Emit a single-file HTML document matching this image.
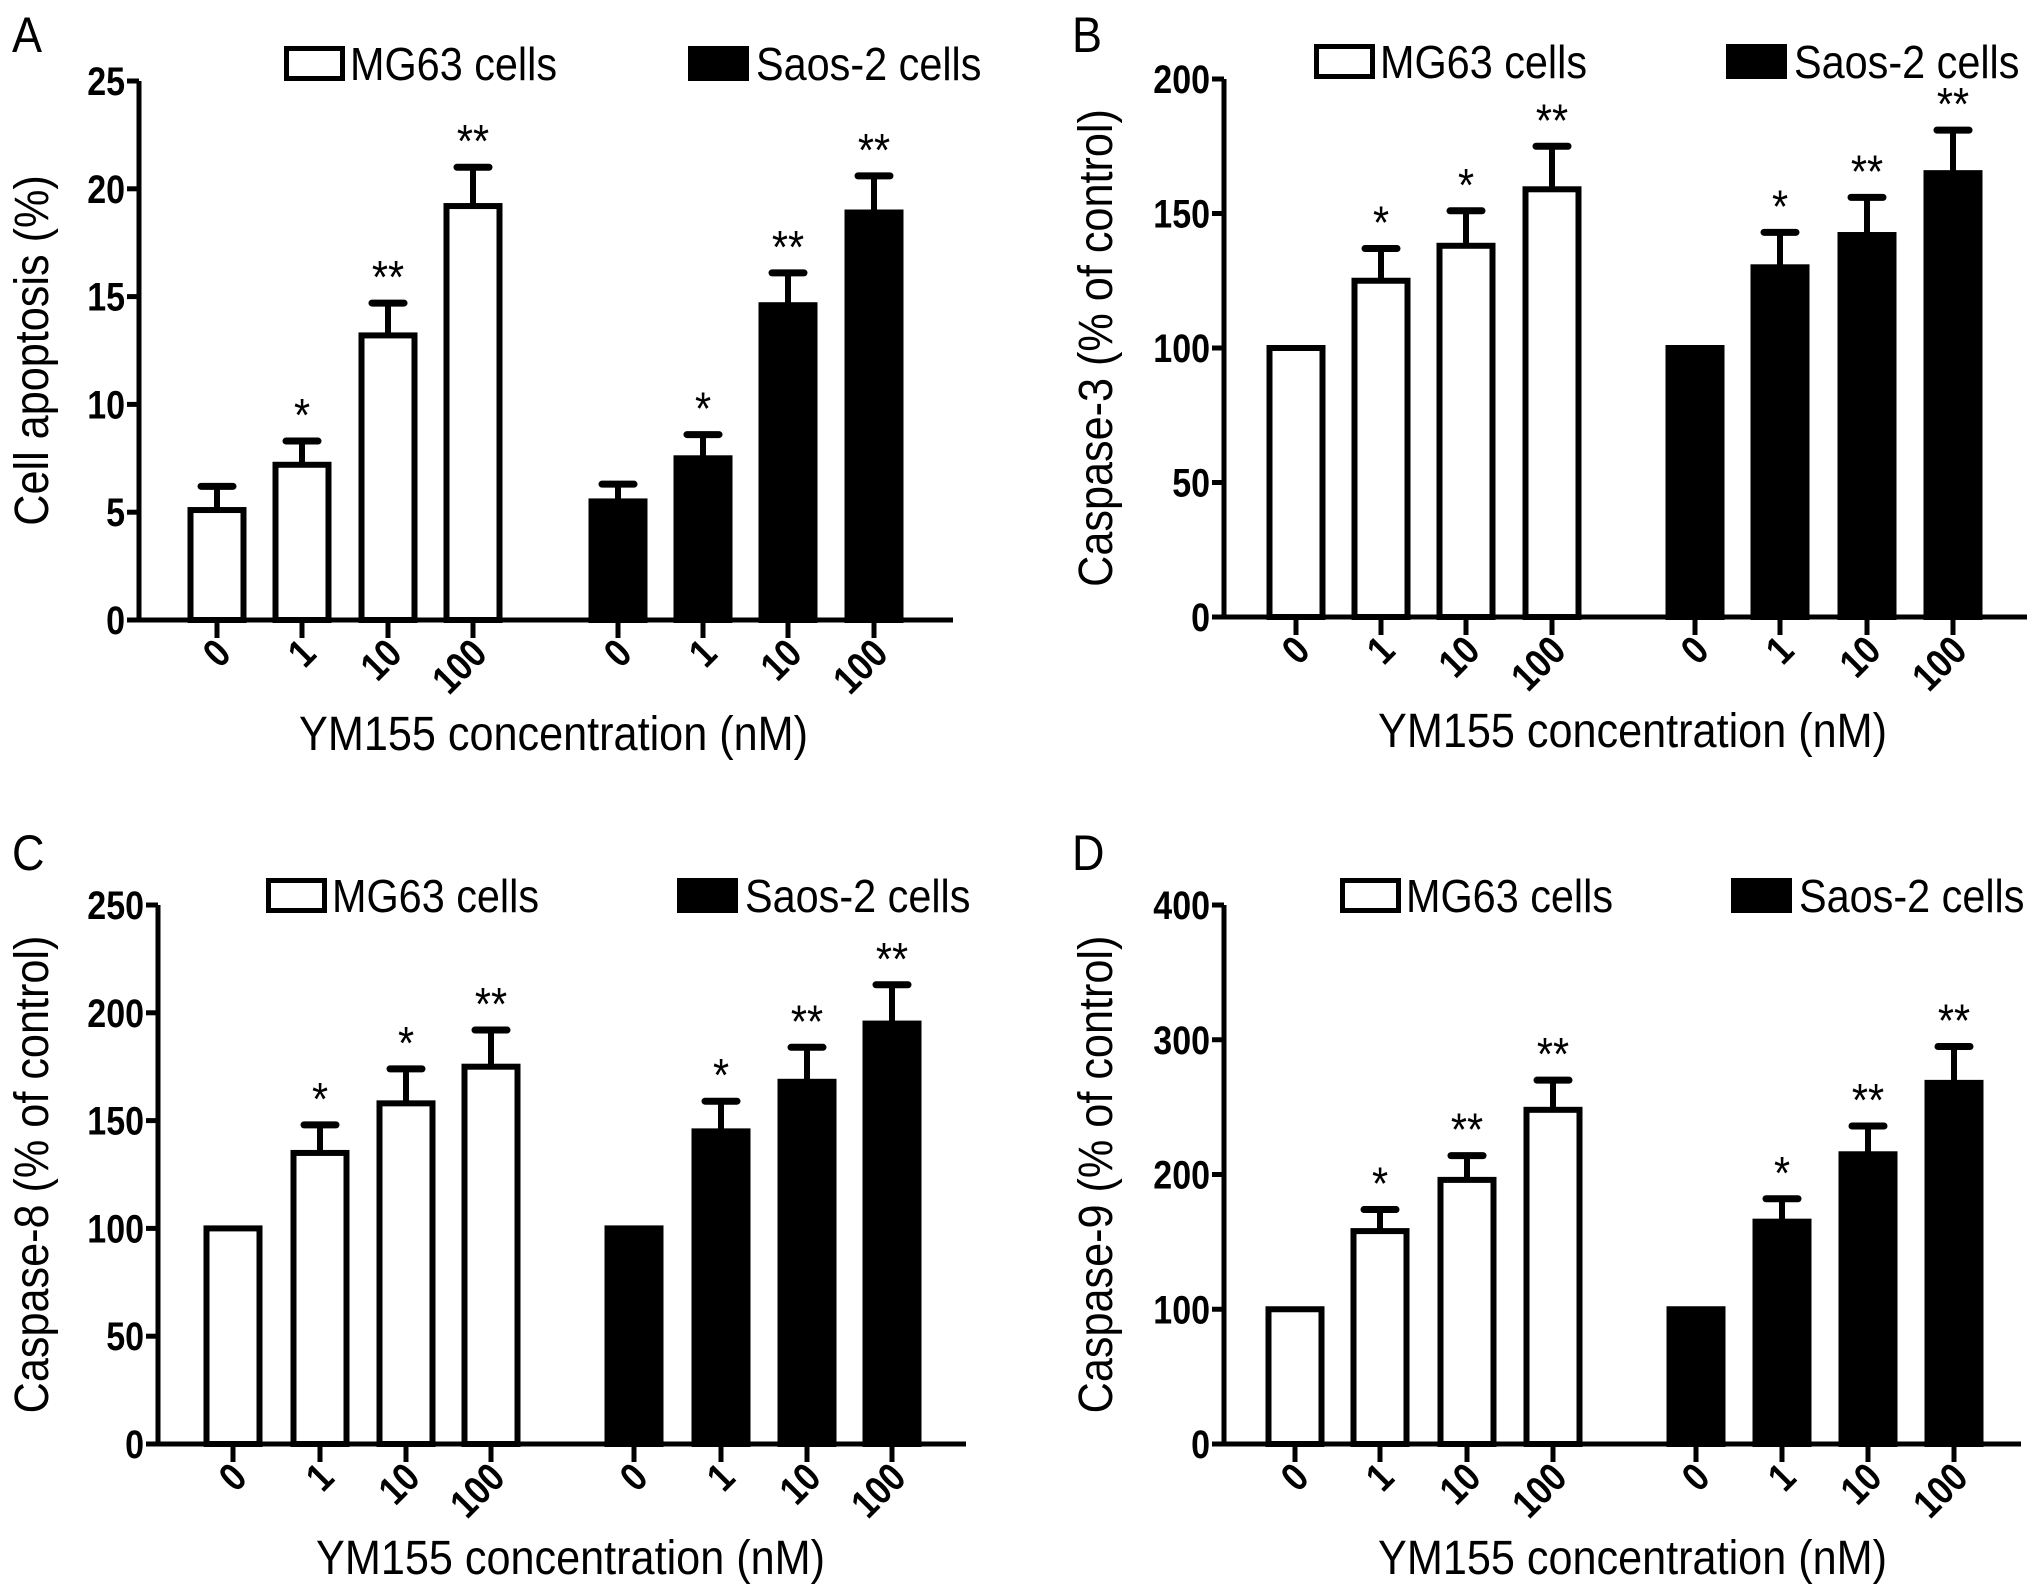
<!DOCTYPE html>
<html><head><meta charset="utf-8"><style>
html,body{margin:0;padding:0;background:#fff;}
svg{display:block;font-family:"Liberation Sans",Arial,sans-serif;}
</style></head><body>
<svg id="fig" width="2031" height="1589" viewBox="0 0 2031 1589" xmlns="http://www.w3.org/2000/svg"></svg>
<script>
const concLabels = ["0","1","10","100"];
const aMG = [5.1, 7.2, 13.2, 19.2];
const aMGerr = [6.2, 8.3, 14.7, 21.0];
const aSaos = [5.5, 7.5, 14.6, 18.9];
const aSaosErr = [6.3, 8.6, 16.1, 20.6];
const aMGstars = ["", "*", "**", "**"];
const aSaosStars = ["", "*", "**", "**"];
const aTicks = [0, 5, 10, 15, 20, 25];

const bMG = [100, 125, 138, 159];
const bMGerr = [null, 137, 151, 175];
const bSaos = [100, 130, 142, 165];
const bSaosErr = [null, 143, 156, 181];
const bMGstars = ["", "*", "*", "**"];
const bSaosStars = ["", "*", "**", "**"];
const bTicks = [0, 50, 100, 150, 200];

const cMG = [100, 135, 158, 175];
const cMGerr = [null, 148, 174, 192];
const cSaos = [100, 145, 168, 195];
const cSaosErr = [null, 159, 184, 213];
const cMGstars = ["", "*", "*", "**"];
const cSaosStars = ["", "*", "**", "**"];
const cTicks = [0, 50, 100, 150, 200, 250];

const dMG = [100, 158, 196, 248];
const dMGerr = [null, 174, 214, 270];
const dSaos = [100, 165, 215, 268];
const dSaosErr = [null, 182, 236, 295];
const dMGstars = ["", "*", "**", "**"];
const dSaosStars = ["", "*", "**", "**"];
const dTicks = [0, 100, 200, 300, 400];

const NS = "http://www.w3.org/2000/svg";
const svg = document.getElementById("fig");
function mk(tag, attrs, parent, txt){
  const e = document.createElementNS(NS, tag);
  for (const k in attrs) e.setAttribute(k, attrs[k]);
  if (txt !== undefined) e.textContent = txt;
  (parent || svg).appendChild(e);
  return e;
}
function txt(parent, x, y, str, size, opts){
  opts = opts || {};
  const sx = opts.sx || 0.9;
  const rot = opts.rot ? ` rotate(${opts.rot})` : "";
  const a = {x: 0, y: 0, "font-size": size, transform: `translate(${x},${y})${rot} scale(${sx},1)`};
  if (opts.anchor) a["text-anchor"] = opts.anchor;
  if (opts.bold) a["font-weight"] = "bold";
  return mk("text", a, parent, str);
}

function panel(p){
  const g = mk("g", {});
  
  
  const y = v => p.y0 - (v / p.ymax) * (p.y0 - p.yTop);
  const L = txt(g, p.letterX, p.letterY, p.letter, 50);
  
  
  // legend
  const lb1 = mk("rect", {x: p.leg1x + 2.5, y: p.legY + 2.5, width: 56, height: 30, fill: "#fff", stroke: "#000", "stroke-width": 5}, g);
  
  
  const lt1 = txt(g, p.leg1x + 66, p.legY + 34, "MG63 cells", 46);
  
  
  const lb2 = mk("rect", {x: p.leg2x, y: p.legY, width: 61, height: 35, fill: "#000"}, g);
  
  
  const lt2 = txt(g, p.leg2x + 68, p.legY + 34, "Saos-2 cells", 46);
  
  
  // axes
  const ya = mk("line", {x1: p.ax, y1: p.yTop, x2: p.ax, y2: p.y0 + 2.5, stroke: "#000", "stroke-width": 5}, g);
  
  
  const xa = mk("line", {x1: p.ax - 12, y1: p.y0, x2: p.xEnd, y2: p.y0, stroke: "#000", "stroke-width": 5}, g);
  
  
  p.ticks.forEach(t => {
    const tl = mk("line", {x1: p.ax - 12, y1: y(t), x2: p.ax, y2: y(t), stroke: "#000", "stroke-width": 5}, g);
    
    
    const tx = txt(g, p.ax - 14, y(t) + 14, String(t), 40, {anchor: "end", bold: true, sx: 0.85});
    
    
  });
  const yt = txt(g, p.yTitleX, (p.yTop + p.y0) / 2, p.yTitle, 48, {anchor: "middle", rot: -90});
  
  
  const xt = txt(g, (p.centers[0] + p.centers[7]) / 2 + 8, p.y0 + 130, "YM155 concentration (nM)", 48, {anchor: "middle"});
  
  
  const series = [
    {vals: p.mg, errs: p.mgErr, stars: p.mgStars, fill: "#fff", name: "mg63"},
    {vals: p.saos, errs: p.saosErr, stars: p.saosStars, fill: "#000", name: "saos2"}
  ];
  const bw = 59;
  series.forEach((s, si) => {
    s.vals.forEach((v, i) => {
      const cx = p.centers[si * 4 + i];
      if (s.errs[i] != null) {
        const el = mk("line", {x1: cx, y1: y(v), x2: cx, y2: y(s.errs[i]), stroke: "#000", "stroke-width": 6}, g);
        
        
        const ec = mk("line", {x1: cx - 16, y1: y(s.errs[i]), x2: cx + 16, y2: y(s.errs[i]), stroke: "#000", "stroke-width": 7, "stroke-linecap": "round"}, g);
        
        
      }
      const r = mk("rect", {x: cx - bw / 2 + 3, y: y(v), width: bw - 6, height: p.y0 - y(v), fill: s.fill, stroke: "#000", "stroke-width": 6}, g);
      
      
      if (s.stars[i]) {
        const st = txt(g, cx, y(s.errs[i]) - 10, s.stars[i], 46, {anchor: "middle"});
        
        
      }
      const tk = mk("line", {x1: cx, y1: p.y0, x2: cx, y2: p.y0 + 18, stroke: "#000", "stroke-width": 5}, g);
      
      
      const xl = txt(g, cx + 16, p.y0 + 36, concLabels[i], 40, {anchor: "end", bold: true, rot: -45, sx: 0.85});
      
      
    });
  });
}

panel({letter: "A", letterX: 12, letterY: 52, ax: 139, y0: 620, yTop: 81, xEnd: 953, ymax: 25, ticks: aTicks,
  centers: [217, 302, 388, 473, 618, 703, 788, 874], leg1x: 284, leg2x: 688, legY: 46, yTitleX: 48,
  yTitle: "Cell apoptosis (%)", mg: aMG, mgErr: aMGerr, saos: aSaos, saosErr: aSaosErr, mgStars: aMGstars, saosStars: aSaosStars});
panel({letter: "B", letterX: 1072, letterY: 52, ax: 1224, y0: 617, yTop: 79, xEnd: 2027, ymax: 200, ticks: bTicks,
  centers: [1296, 1381, 1466, 1552, 1695, 1780, 1867, 1953], leg1x: 1314, leg2x: 1726, legY: 44, yTitleX: 1112,
  yTitle: "Caspase-3 (% of control)", mg: bMG, mgErr: bMGerr, saos: bSaos, saosErr: bSaosErr, mgStars: bMGstars, saosStars: bSaosStars});
panel({letter: "C", letterX: 12, letterY: 870, ax: 158, y0: 1444, yTop: 905, xEnd: 966, ymax: 250, ticks: cTicks,
  centers: [233, 320, 406, 491, 634, 721, 807, 892], leg1x: 266, leg2x: 677, legY: 878, yTitleX: 48,
  yTitle: "Caspase-8 (% of control)", mg: cMG, mgErr: cMGerr, saos: cSaos, saosErr: cSaosErr, mgStars: cMGstars, saosStars: cSaosStars});
panel({letter: "D", letterX: 1072, letterY: 870, ax: 1224, y0: 1444, yTop: 905, xEnd: 2021, ymax: 400, ticks: dTicks,
  centers: [1295, 1380, 1467, 1553, 1696, 1782, 1868, 1954], leg1x: 1340, leg2x: 1731, legY: 878, yTitleX: 1112,
  yTitle: "Caspase-9 (% of control)", mg: dMG, mgErr: dMGerr, saos: dSaos, saosErr: dSaosErr, mgStars: dMGstars, saosStars: dSaosStars});
</script>
</body></html>
